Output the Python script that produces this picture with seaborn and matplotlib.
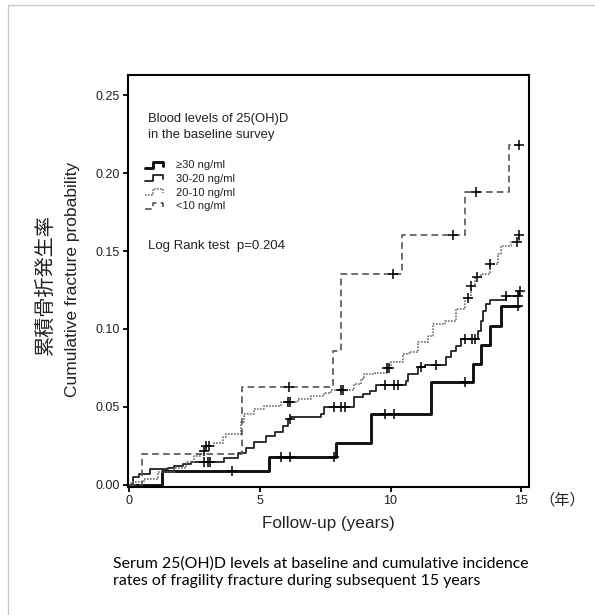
import numpy as np
import matplotlib
matplotlib.use("Agg")
import matplotlib.pyplot as plt
from matplotlib.legend_handler import HandlerBase
from matplotlib.lines import Line2D
import seaborn as sns

# Kaplan-Meier steps: (years, cumulative fracture probability)
ge30_t = [0, 1.26, 5.36, 7.92, 9.26, 11.55, 13.15, 13.47, 13.79, 14.22, 14.9]
ge30_p = [0, 0.009, 0.0176, 0.0266, 0.0455, 0.0660, 0.0774, 0.0897, 0.102, 0.1147, 0.1147]
ge30_cens = [3.95, 5.81, 6.14, 7.85, 9.8, 10.12, 12.84, 14.88]

r30_20_t = [0, 0.13, 0.38, 0.8, 1.47, 1.72, 2.04, 2.36, 3.64, 4.15, 4.45, 4.79, 5.24, 5.56,
            5.87, 6.07, 6.2, 7.34, 7.47, 8.6, 8.94, 9.2, 9.45, 10.6, 10.67, 11.05, 11.3,
            12.13, 12.33, 12.52, 12.71, 13.35, 13.47, 13.54, 13.67, 13.79, 14.43, 14.92]
r30_20_p = [0, 0.0047, 0.0069, 0.010, 0.011, 0.012, 0.013, 0.0144, 0.0170, 0.0205, 0.0235,
            0.0276, 0.0314, 0.034, 0.0378, 0.042, 0.0437, 0.0453, 0.0496, 0.056, 0.058, 0.060,
            0.0640, 0.0667, 0.071, 0.0753, 0.077, 0.0817, 0.086, 0.089, 0.0934, 0.0987, 0.105,
            0.1115, 0.1158, 0.1186, 0.121, 0.1244]
r30_20_cens = [2.85, 3.0, 3.1, 6.15, 7.85, 8.12, 8.26, 9.77, 10.15, 10.28, 11.15, 11.75,
               12.84, 13.1, 13.22, 14.43, 14.88, 14.95]

r20_10_t = [0, 0.06, 0.57, 1.08, 1.72, 2.17, 2.49, 2.75, 2.94, 3.26, 3.58, 3.7, 4.28, 4.4,
            4.79, 5.17, 5.81, 6.45, 6.96, 7.47, 7.73, 8.62, 8.88, 9.0, 9.39, 9.85, 10.0,
            10.47, 10.7, 11.05, 11.43, 11.62, 12.07, 12.52, 12.84, 13.09, 13.22, 13.47,
            13.79, 14.11, 14.24, 14.62, 14.9]
r20_10_p = [0, 0.0015, 0.0037, 0.008, 0.011, 0.0144, 0.0186, 0.0218, 0.025, 0.027, 0.0304,
            0.0325, 0.040, 0.0453, 0.0485, 0.0506, 0.0528, 0.055, 0.057, 0.059, 0.061, 0.0645,
            0.0678, 0.071, 0.072, 0.075, 0.0785, 0.0838, 0.085, 0.0913, 0.0955, 0.103, 0.105,
            0.1126, 0.120, 0.1276, 0.133, 0.135, 0.1415, 0.148, 0.153, 0.156, 0.160]
r20_10_cens = [2.85, 2.95, 3.05, 6.07, 6.15, 8.1, 8.17, 9.85, 9.95, 12.95, 13.09, 13.3,
               13.79, 14.85, 14.92]

lt10_t = [0, 0.47, 4.33, 7.78, 8.1, 10.45, 12.84, 14.53, 14.92]
lt10_p = [0, 0.020, 0.063, 0.086, 0.135, 0.160, 0.188, 0.218, 0.218]
lt10_cens = [6.1, 10.1, 12.4, 13.28, 14.92]

group_labels = ["\u226530 ng/ml", "30-20 ng/ml", "20-10 ng/ml", "<10 ng/ml"]
x_ticks = [0, 5, 10, 15]
y_ticks = [0.00, 0.05, 0.10, 0.15, 0.20, 0.25]


def step_value(times, probs, t):
    idx = np.searchsorted(times, t, side="right") - 1
    return np.asarray(probs)[idx]


class StepHandler(HandlerBase):
    # draws a small staircase glyph like the original key
    def create_artists(self, legend, orig_handle, xdescent, ydescent,
                       width, height, fontsize, trans):
        xs = np.array([0.0, 0.45, 0.45, 0.95, 0.95]) * width - xdescent
        ys = np.array([0.1, 0.1, 0.85, 0.85, 0.35]) * height - ydescent
        line = Line2D(xs, ys)
        line.update_from(orig_handle)
        line.set_transform(trans)
        return [line]


sns.set_style("ticks")
plt.rcParams['font.family'] = ['Liberation Sans', 'Noto Sans CJK JP', 'DejaVu Sans']
text_col = '#222222'

W, H = 595, 615
fig = plt.figure(figsize=(W / 100, H / 100), dpi=100)
ax = fig.add_axes([128 / W, 1 - 487 / H, 401 / W, 412 / H])

groups = [
    (ge30_t, ge30_p, ge30_cens, dict(color='#111111', linewidth=2.1, linestyle='-')),
    (r30_20_t, r30_20_p, r30_20_cens, dict(color='#222222', linewidth=1.3, linestyle='-')),
    (r20_10_t, r20_10_p, r20_10_cens, dict(color='#707070', linewidth=1.2, linestyle=(0, (1.0, 0.8)))),
    (lt10_t, lt10_p, lt10_cens, dict(color='#555555', linewidth=1.2, linestyle=(0, (4.0, 2.5)))),
]

handles = []
for (t, p, cens, style), label in zip(groups, group_labels):
    sns.lineplot(x=t, y=p, drawstyle='steps-post', estimator=None, sort=False,
                 ax=ax, zorder=2, **style)
    sns.scatterplot(x=cens, y=step_value(t, p, cens), marker='+', s=45,
                    color='black', linewidth=1.1, ax=ax, zorder=3)
    handles.append(Line2D([], [], **style))

ax.set_xlim(-0.05, 15.3)
ax.set_ylim(-0.0015, 0.263)
ax.set_xticks(x_ticks)
ax.set_xticklabels([str(v) for v in x_ticks])
ax.set_yticks(y_ticks)
ax.set_yticklabels([f"{v:.2f}" for v in y_ticks])
for s in ax.spines.values():
    s.set_visible(True)
    s.set_linewidth(1.5)
    s.set_color('black')
ax.tick_params(axis='both', direction='out', length=3.5, width=1.3, labelsize=9,
               colors='black', labelcolor=text_col, pad=2.5)

ax.set_xlabel("Follow-up (years)", fontsize=12.3, color=text_col, labelpad=6)
ax.set_ylabel("")

# key block in the upper left of the plot
ax.text(0.05, 0.908, "Blood levels of 25(OH)D\nin the baseline survey", transform=ax.transAxes,
        ha='left', va='top', fontsize=9.4, color=text_col, linespacing=1.4)
ax.legend(handles, group_labels, handler_map={Line2D: StepHandler()},
          loc='upper left', bbox_to_anchor=(0.042, 0.793), borderaxespad=0, borderpad=0,
          frameon=False, fontsize=8, handlelength=1.7, handletextpad=1.1,
          labelspacing=0.33, labelcolor=text_col)
ax.text(0.05, 0.578, "Log Rank test  p=0.204", transform=ax.transAxes,
        ha='left', va='baseline', fontsize=9.5, color=text_col)

# axis titles outside the axes
fig.text(45 / W, 1 - 285 / H, "累積骨折発生率", rotation=90, ha='center', va='center',
         fontsize=14.5, color=text_col, family=['Noto Sans CJK JP', 'DejaVu Sans'])
fig.text(72 / W, 1 - 279 / H, "Cumulative fracture probability", rotation=90,
         ha='center', va='center', fontsize=12.5, color=text_col)
fig.text(562 / W, 1 - 500 / H, "（年）", ha='center', va='center', fontsize=11,
         color=text_col, family=['Noto Sans CJK JP', 'DejaVu Sans'])

fig.text(113 / W, 1 - 572 / H,
         "Serum 25(OH)D levels at baseline and cumulative incidence\n"
         "rates of fragility fracture during subsequent 15 years",
         ha='left', va='center', fontsize=11.4, color='black', linespacing=1.35,
         family=['Lato', 'DejaVu Sans'])

# light frame around the slide
fig.add_artist(Line2D([8 / W, 1], [1 - 5 / H, 1 - 5 / H], transform=fig.transFigure,
                      color='#c8c8c8', linewidth=1))
fig.add_artist(Line2D([8 / W, 8 / W], [0, 1 - 5 / H], transform=fig.transFigure,
                      color='#c8c8c8', linewidth=1))

fig.savefig("out.png", dpi=100)
plt.close(fig)
